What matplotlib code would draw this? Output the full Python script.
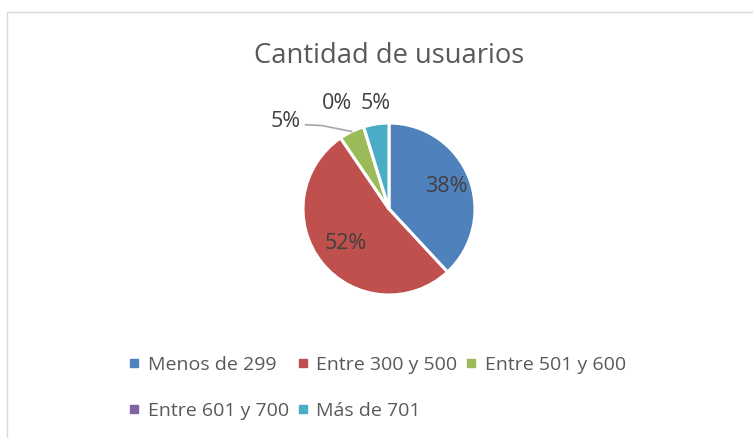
import numpy as np
import matplotlib
matplotlib.use("Agg")
from matplotlib import pyplot as plt
from matplotlib.lines import Line2D
from matplotlib.patches import Rectangle

# data
categories = ["Menos de 299", "Entre 300 y 500", "Entre 501 y 600", "Entre 601 y 700", "Más de 701"]
usuarios = [8, 11, 1, 0, 1]
colors = ["#4F81BD", "#C0504D", "#9BBB59", "#8064A2", "#4BACC6"]
title = "Cantidad de usuarios"

plt.rcParams["font.family"] = ["Open Sans", "DejaVu Sans"]
text_color = "#595959"

W, H = 753, 438
fig = plt.figure(figsize=(W / 100, H / 100), dpi=100)

# light chart-area border (runs off right and bottom edges)
fig.patches.append(Rectangle((7 / W, -0.1), 1.0, (H - 12) / H + 0.1,
                             transform=fig.transFigure, fill=False,
                             edgecolor="#D9D9D9", linewidth=1.0))

# pie axes: centre (389, 209) px, radius 86 px
cx, cy, r = 389, 209, 86
ax = fig.add_axes([(cx - r) / W, (H - cy - r) / H, 2 * r / W, 2 * r / H])
wedges, _ = ax.pie(usuarios, colors=colors, startangle=90, counterclock=False,
                   radius=1.0, wedgeprops=dict(edgecolor="white", linewidth=2.2))
ax.set_xlim(-1, 1)
ax.set_ylim(-1, 1)
ax.set_aspect("auto")
ax.axis("off")

total = sum(usuarios)
pcts = [100 * v / total for v in usuarios]
mids = [np.deg2rad((w.theta1 + w.theta2) / 2) for w in wedges]
lbl = dict(ha="center", va="center", fontsize=15.5, color="#404040")

# inside labels
for i, d in [(0, 0.72), (1, 0.65)]:
    ax.text(d * np.cos(mids[i]), d * np.sin(mids[i]), f"{pcts[i]:.0f}%", **lbl)

# outside labels
ax.text(-1.20, 1.02, f"{pcts[2]:.0f}%", **lbl)
ax.plot([-0.97, -0.78, np.cos(mids[2])], [0.98, 0.97, np.sin(mids[2])],
        color="#A6A6A6", linewidth=1.2, clip_on=False)
ax.text(-0.60, 1.23, f"{pcts[3]:.0f}%", **lbl)
ax.text(-0.15, 1.23, f"{pcts[4]:.0f}%", **lbl)

fig.text(cx / W, 1 - 56 / H, title, ha="center", va="center", fontsize=19.7, color=text_color)

# legend fills column-first; reorder so it reads row by row
order = [0, 3, 1, 4, 2]
handles = [Line2D([], [], marker="s", linestyle="none", markersize=6,
                  markerfacecolor=colors[i], markeredgecolor=colors[i]) for i in order]
leg = fig.legend(handles, [categories[i] for i in order], ncol=3, loc="center",
                 bbox_to_anchor=(377 / W, 1 - 388 / H), frameon=False,
                 fontsize=14, handlelength=0.6, handletextpad=0.4,
                 columnspacing=0.4, labelspacing=1.45, labelcolor=text_color)

fig.savefig("out.png", dpi=100)
